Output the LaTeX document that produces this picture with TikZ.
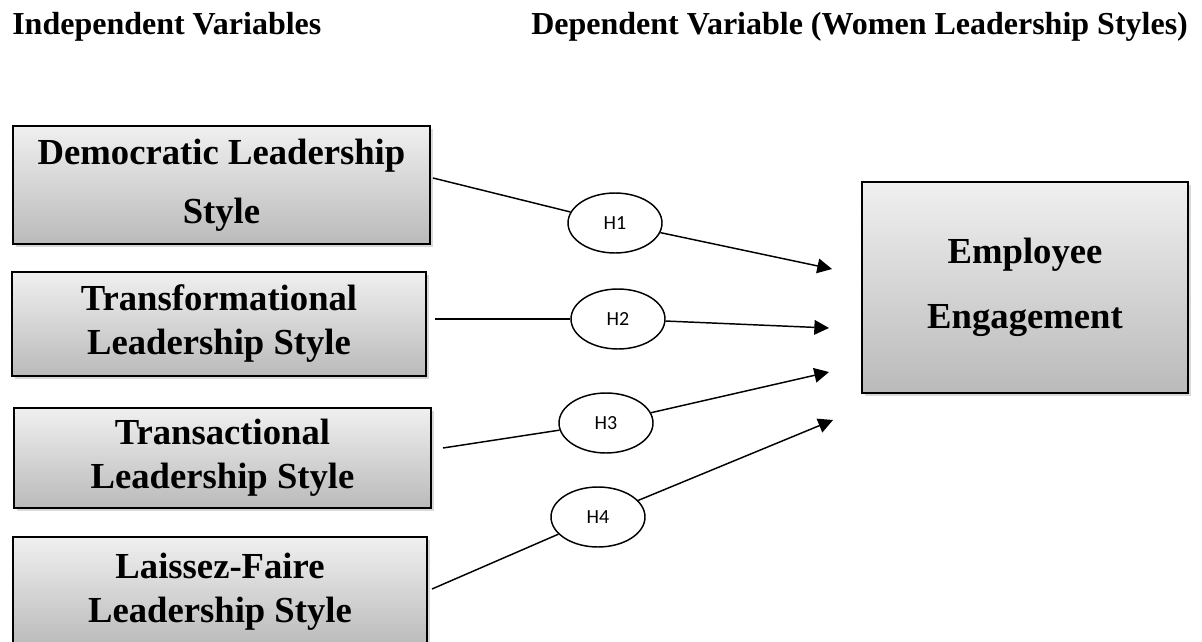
\documentclass[tikz,border=0pt]{standalone}
\usepackage{fontspec}
\setmainfont{Liberation Serif}
\newfontfamily\hypofont{Carlito}
\usetikzlibrary{shapes.geometric}
\usetikzlibrary{shadows}
\usetikzlibrary{arrows.meta}

\begin{document}
\begin{tikzpicture}[x=0.75pt, y=-0.75pt,
	varbox/.style={draw=black, line width=1.2pt, top color=black!6, bottom color=black!27, drop shadow={shadow xshift=2pt, shadow yshift=-2.5pt, opacity=0.3}, align=center, inner sep=0pt, font=\fontsize{27.5}{33}\selectfont\bfseries},
	hypo/.style={draw=black, ellipse, fill=white, line width=1.1pt, minimum width=70.5pt, minimum height=45pt, inner sep=0pt, font=\hypofont\fontsize{15}{18}\selectfont},
	head/.style={anchor=base west, inner sep=0pt, font=\fontsize{24}{29}\selectfont\bfseries},
	link/.style={line width=1.1pt},
	arr/.style={line width=1.1pt, -{Triangle[length=11pt,width=11pt]}}]
		\useasboundingbox (0,0) rectangle (1202,642);

		\node[head] (indep) at (12,35) {Independent Variables};
		\node[head] (dep) at (531,35) {Dependent Variable (Women Leadership Styles)};

		\node[varbox, minimum width=312.75pt, minimum height=88.5pt] (demo) at (221.5,185) {Democratic Leadership\\[11pt]Style};
		\node[varbox, minimum width=310.5pt, minimum height=78pt] (transf) at (219,324) {Transformational\\Leadership Style};
		\node[varbox, minimum width=312.75pt, minimum height=75pt] (transa) at (222.5,458) {Transactional\\Leadership Style};
		\node[varbox, minimum width=310.5pt, minimum height=82.5pt] (laissez) at (220,592) {Laissez-Faire\\Leadership Style};
		\node[varbox, minimum width=244.5pt, minimum height=158.25pt] (engage) at (1025,287.5) {Employee\\[15.75pt]Engagement};

		\node[hypo] (h1) at (615,223) {H1};
		\node[hypo] (h2) at (618,319) {H2};
		\node[hypo] (h3) at (606,423) {H3};
		\node[hypo] (h4) at (598,517) {H4};

		\coordinate (s1) at (433,178);
		\coordinate (s2) at (435,319);
		\coordinate (s3) at (443,448);
		\coordinate (s4) at (432,589);
		\coordinate (t1) at (832,269);
		\coordinate (t2) at (829,328);
		\coordinate (t3) at (829,372);
		\coordinate (t4) at (833,420);

		\draw[link] (s1) -- (h1);
		\draw[arr]  (h1) -- (t1);
		\draw[link] (s2) -- (h2);
		\draw[arr]  (h2) -- (t2);
		\draw[link] (s3) -- (h3);
		\draw[arr]  (h3) -- (t3);
		\draw[link] (s4) -- (h4);
		\draw[arr]  (h4) -- (t4);
	\end{tikzpicture}
\end{document}
